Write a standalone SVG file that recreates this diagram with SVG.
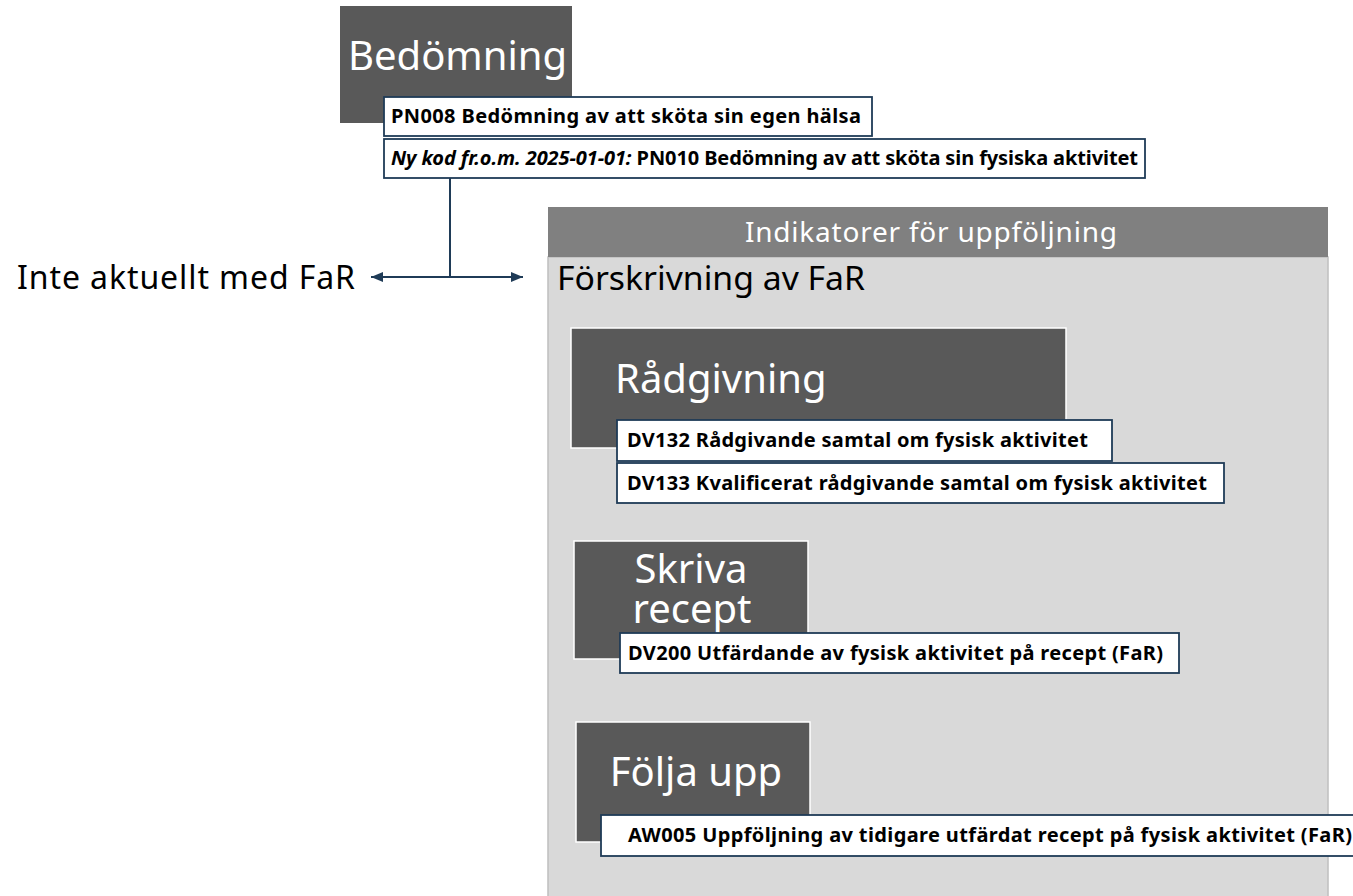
<svg xmlns="http://www.w3.org/2000/svg" width="1353" height="896" viewBox="0 0 1353 896">
<defs>
<style>
.title{fill:#595959;stroke:#ffffff;stroke-width:1.5}
.ttxt{font-family:"Noto Sans","Open Sans",sans-serif;fill:#ffffff;font-size:40px}
.code{fill:#ffffff;stroke:#1f3b57;stroke-width:1.8}
.ctxt{font-family:"Noto Sans","Open Sans",sans-serif;font-weight:bold;font-size:20px;fill:#000000}
.plain{font-family:"Noto Sans","Open Sans",sans-serif;fill:#000000;font-size:32px}
.conn{stroke:#1f3b57;stroke-width:2;fill:none}
</style>
<marker id="ah" viewBox="0 0 12 10" refX="12" refY="5" markerWidth="13" markerHeight="10" markerUnits="userSpaceOnUse" orient="auto-start-reverse">
<path d="M0,0 L12,5 L0,10 z" fill="#1f3b57"/>
</marker>
</defs>
<rect width="1353" height="896" fill="#ffffff"/>

<g id="panel">
<rect x="548" y="257" width="780" height="650" fill="#d9d9d9" stroke="#bfbfbf" stroke-width="1.5"/>
<rect x="548" y="207" width="780" height="50" fill="#808080"/>
<text x="745" y="242" textLength="372" font-family="Noto Sans, Open Sans, sans-serif" font-size="28" fill="#ffffff">Indikatorer för uppföljning</text>
<text x="557" y="290" class="plain" font-size="31" textLength="308" lengthAdjust="spacingAndGlyphs">Förskrivning av FaR</text>
</g>

<g id="bedomning">
<rect x="340" y="6" width="232" height="117" fill="#595959"/>
<text x="348" y="70" class="ttxt">Bedömning</text>
<rect x="384" y="97" width="488" height="39" class="code"/>
<text x="391" y="123" class="ctxt" textLength="470">PN008 Bedömning av att sköta sin egen hälsa</text>
<rect x="384" y="139" width="761" height="39" class="code"/>
<text x="391" y="165" class="ctxt" textLength="747"><tspan font-style="italic">Ny kod fr.o.m. 2025-01-01:</tspan> PN010 Bedömning av att sköta sin fysiska aktivitet</text>
</g>

<g id="inte">
<text x="17" y="289" class="plain" textLength="338">Inte aktuellt med FaR</text>
</g>

<g id="radgivning">
<rect x="571" y="328" width="495" height="120" class="title"/>
<text x="615" y="393" class="ttxt">Rådgivning</text>
<rect x="617" y="420" width="495" height="41" class="code"/>
<text x="627" y="447" class="ctxt" textLength="461">DV132 Rådgivande samtal om fysisk aktivitet</text>
<rect x="617" y="463" width="607" height="40" class="code"/>
<text x="627" y="490" class="ctxt" textLength="580">DV133 Kvalificerat rådgivande samtal om fysisk aktivitet</text>
</g>

<g id="skriva">
<rect x="574" y="541" width="234" height="118" class="title"/>
<text x="691" y="583" class="ttxt" text-anchor="middle" font-size="38">Skriva</text>
<text x="692" y="623" class="ttxt" text-anchor="middle" font-size="38">recept</text>
<rect x="620" y="633" width="559" height="40" class="code"/>
<text x="628" y="660" class="ctxt" textLength="535">DV200 Utfärdande av fysisk aktivitet på recept (FaR)</text>
</g>

<g id="folja">
<rect x="576" y="722" width="234" height="120" class="title"/>
<text x="696" y="786" class="ttxt" text-anchor="middle">Följa upp</text>
<rect x="601" y="815" width="760" height="41" class="code"/>
<text x="628" y="842" class="ctxt" textLength="724">AW005 Uppföljning av tidigare utfärdat recept på fysisk aktivitet (FaR)</text>
</g>

<g id="connectors">
<line x1="450" y1="178" x2="450" y2="277" class="conn"/>
<line x1="450" y1="277" x2="371" y2="277" class="conn" marker-end="url(#ah)"/>
<line x1="450" y1="277" x2="523" y2="277" class="conn" marker-end="url(#ah)"/>
</g>
</svg>
